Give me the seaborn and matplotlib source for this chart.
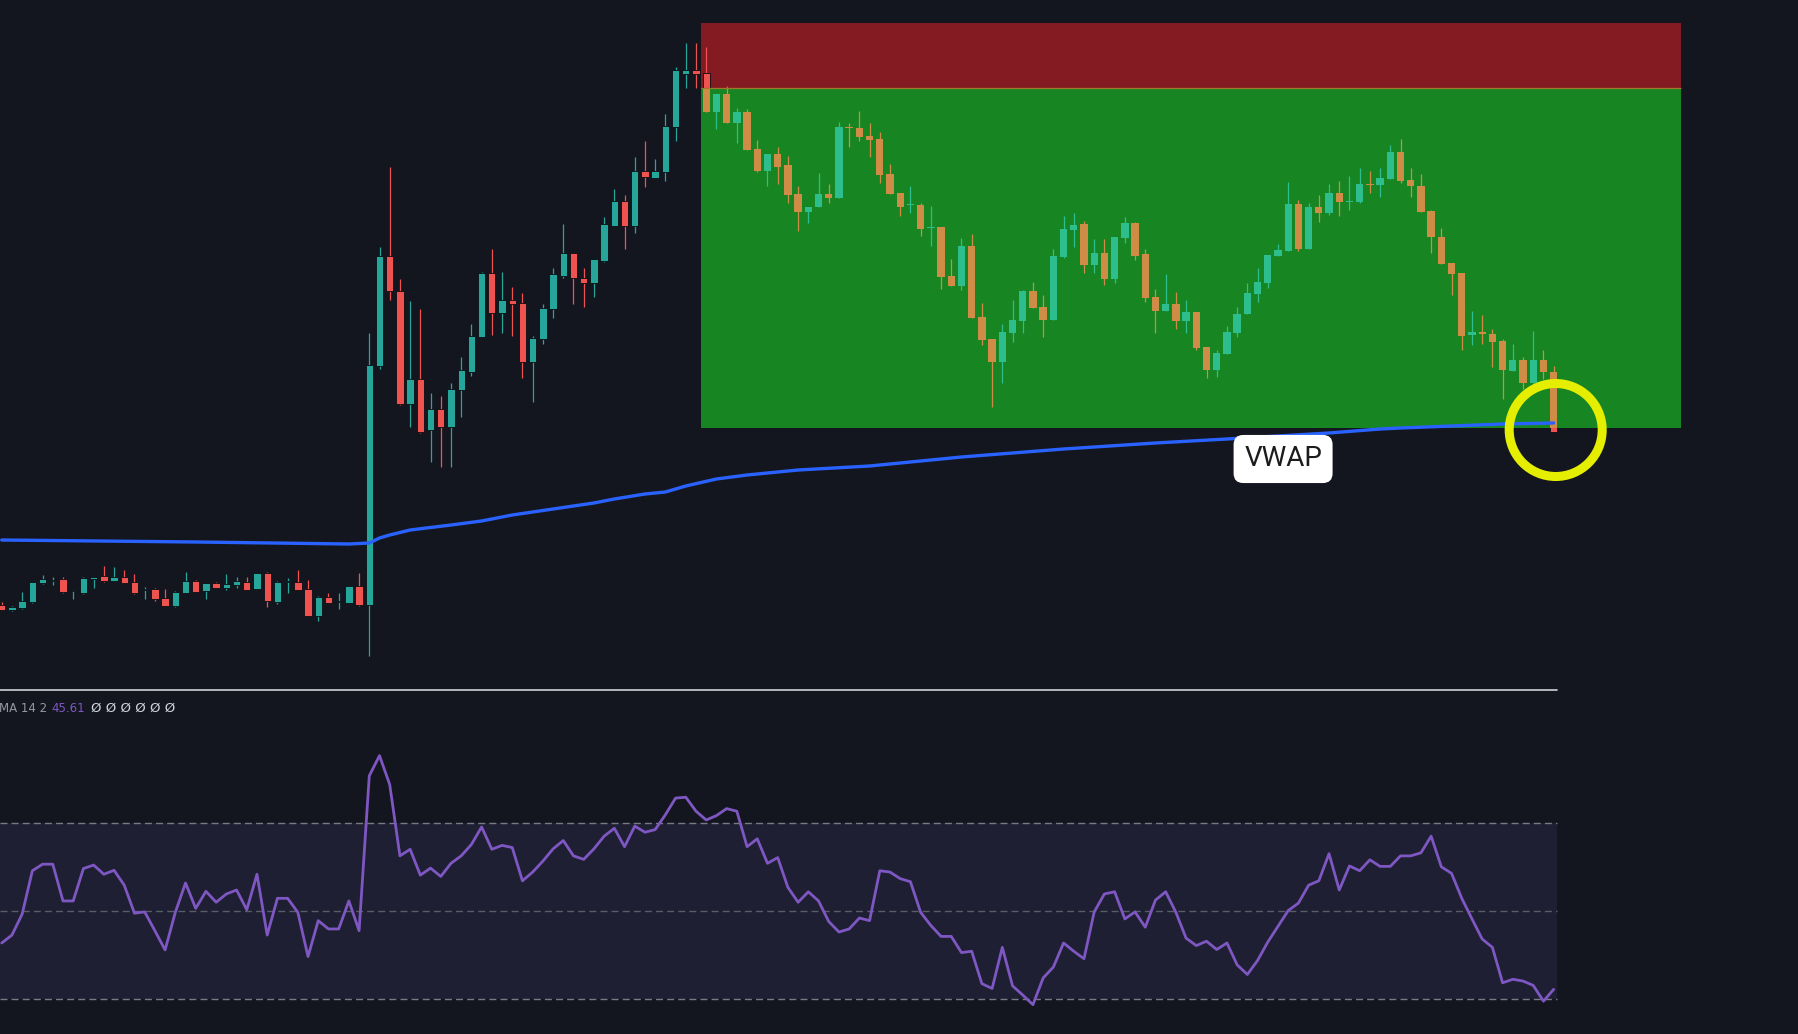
import matplotlib
matplotlib.use("Agg")
import matplotlib.pyplot as plt
from matplotlib.patches import Rectangle, Ellipse
from matplotlib.lines import Line2D
import numpy as np
import pandas as pd
import seaborn as sns

# candle data (one candle per bar, bar 0 = leftmost)
opens = [9.5, 9.0, 9.2, 9.8, 11.7, 11.9, 12.1, 10.9, 10.7, 12.1,
         12.4, 11.9, 12.3, 11.8, 11.0, 11.1, 10.2, 9.4, 10.7, 11.9,
         10.9, 11.7, 11.2, 11.5, 11.8, 11.1, 12.7, 9.8, 11.8, 11.8,
         11.1, 8.4, 10.3, 9.8, 9.7, 11.4, 9.5, 33.4, 44.4, 40.9,
         29.6, 32.1, 27.0, 29.1, 27.3, 31.0, 32.8, 36.3, 42.7, 38.7,
         40.0, 39.7, 33.8, 36.1, 39.1, 42.4, 44.7, 42.2, 41.7, 43.9,
         47.4, 49.9, 47.4, 52.9, 52.2, 52.8, 57.3, 62.6, 63.0, 62.7,
         58.8, 60.6, 57.7, 58.8, 55.1, 52.9, 54.6, 53.5, 50.6, 48.8,
         49.3, 50.6, 50.2, 57.3, 57.2, 56.4, 56.1, 52.6, 50.7, 49.5,
         49.5, 47.2, 47.3, 42.4, 41.4, 45.4, 38.3, 36.1, 33.8, 36.7,
         37.9, 40.9, 39.3, 38.0, 44.3, 47.0, 47.6, 43.5, 44.7, 42.1,
         46.2, 47.7, 44.6, 40.3, 38.9, 39.6, 37.9, 38.8, 35.3, 33.0,
         34.6, 36.7, 38.6, 40.6, 41.7, 44.4, 44.9, 49.6, 45.1, 49.3,
         48.7, 50.7, 49.8, 49.8, 51.6, 51.5, 52.1, 54.8, 52.0, 51.4,
         48.9, 46.3, 43.7, 42.7, 36.5, 36.8, 36.6, 35.9, 32.9, 34.0,
         31.7, 34.0, 32.8]
highs = [9.8, 9.4, 10.8, 11.8, 12.5, 12.3, 12.3, 11.0, 12.3, 12.3,
         13.4, 13.3, 13.0, 12.6, 11.3, 11.2, 11.1, 10.9, 12.8, 12.0,
         11.7, 11.8, 12.6, 12.3, 12.3, 12.7, 12.8, 11.9, 12.2, 13.0,
         12.0, 10.4, 10.7, 10.7, 11.4, 12.7, 36.7, 45.3, 53.3, 42.1,
         39.9, 39.1, 30.7, 30.4, 31.7, 34.3, 37.6, 42.8, 45.1, 42.8,
         41.3, 40.7, 36.4, 39.6, 43.2, 47.6, 44.7, 43.2, 44.1, 48.3,
         51.1, 50.5, 54.3, 55.9, 54.1, 58.6, 63.3, 65.7, 65.7, 65.3,
         60.6, 61.4, 59.2, 59.1, 56.0, 54.6, 55.3, 54.4, 51.4, 49.3,
         52.7, 51.6, 57.8, 57.7, 58.9, 57.7, 56.8, 53.6, 50.7, 51.4,
         49.7, 49.4, 47.3, 44.1, 46.2, 46.6, 39.7, 36.1, 37.6, 40.0,
         41.0, 41.8, 40.5, 45.1, 48.4, 48.7, 47.9, 46.1, 46.1, 46.3,
         48.3, 47.8, 45.1, 41.1, 42.6, 40.8, 40.0, 38.8, 35.3, 35.0,
         37.4, 39.3, 41.7, 43.2, 44.5, 45.6, 51.8, 50.0, 49.7, 50.5,
         51.6, 51.9, 52.4, 53.2, 52.9, 53.2, 55.5, 56.1, 53.2, 52.6,
         49.0, 47.2, 43.7, 42.7, 38.9, 38.5, 37.1, 36.1, 35.6, 34.3,
         36.9, 35.0, 33.4]
lows = [9.0, 8.9, 9.1, 9.7, 11.6, 11.5, 10.7, 10.1, 10.6, 11.2,
        11.8, 11.9, 11.7, 10.6, 10.1, 9.9, 9.4, 9.3, 10.7, 10.8,
        10.1, 11.2, 11.0, 11.2, 11.0, 11.1, 9.3, 9.6, 10.7, 11.0,
        8.4, 7.9, 9.7, 9.1, 9.7, 9.4, 4.4, 33.1, 40.0, 29.5,
        27.3, 26.7, 23.8, 23.3, 23.3, 28.3, 32.4, 36.3, 36.5, 36.7,
        36.4, 32.2, 29.8, 35.6, 38.2, 42.2, 39.6, 39.3, 40.3, 43.8,
        47.4, 45.1, 46.7, 51.3, 52.2, 51.9, 55.9, 61.2, 61.2, 58.8,
        57.1, 57.7, 55.7, 55.0, 52.8, 51.4, 51.6, 49.7, 46.9, 47.7,
        49.3, 49.7, 50.2, 55.3, 55.9, 54.3, 51.7, 50.6, 48.4, 48.7,
        46.4, 45.4, 41.1, 41.4, 41.0, 38.2, 35.5, 29.3, 31.7, 35.8,
        36.7, 39.2, 36.3, 38.0, 44.2, 45.3, 42.7, 42.7, 41.5, 41.7,
        45.7, 44.0, 39.8, 36.7, 38.9, 37.1, 36.7, 35.0, 32.2, 32.3,
        34.6, 36.3, 38.6, 39.8, 41.2, 44.4, 44.9, 44.9, 45.1, 47.8,
        48.5, 48.4, 49.0, 49.7, 50.7, 50.3, 52.1, 51.7, 50.3, 48.8,
        44.7, 43.6, 40.5, 35.0, 35.5, 35.6, 33.3, 30.1, 32.9, 31.1,
        31.7, 32.1, 26.8]
closes = [9.0, 9.3, 9.9, 11.8, 12.1, 12.0, 10.8, 11.0, 12.2, 12.3,
          11.9, 12.3, 11.7, 10.7, 11.0, 10.1, 9.4, 10.8, 11.9, 10.8,
          11.7, 11.2, 11.6, 11.9, 11.0, 12.7, 9.9, 11.8, 11.9, 11.0,
          8.4, 10.3, 9.7, 9.9, 11.4, 9.5, 33.5, 44.4, 40.9, 29.6,
          32.1, 26.8, 29.1, 27.3, 31.1, 33.0, 36.4, 42.7, 38.7, 40.0,
          39.6, 33.8, 36.2, 39.2, 42.6, 44.7, 42.2, 41.7, 44.1, 47.6,
          49.9, 47.4, 52.9, 52.3, 52.9, 57.4, 63.0, 63.0, 62.6, 58.8,
          60.6, 57.7, 58.8, 55.0, 52.9, 54.6, 53.3, 50.5, 48.8, 49.3,
          50.6, 50.2, 57.3, 57.2, 56.3, 56.0, 52.5, 50.6, 49.3, 49.5,
          47.1, 47.3, 42.3, 41.4, 45.4, 38.2, 36.0, 33.8, 36.8, 38.0,
          40.9, 39.2, 38.0, 44.4, 47.1, 47.5, 43.5, 44.7, 42.1, 46.3,
          47.7, 44.4, 40.2, 38.9, 39.6, 37.9, 38.8, 35.2, 33.0, 34.7,
          36.8, 38.6, 40.7, 41.8, 44.5, 45.0, 49.6, 45.1, 49.3, 48.7,
          50.7, 49.8, 49.9, 51.6, 51.5, 52.2, 54.8, 51.9, 51.4, 48.8,
          46.3, 43.6, 42.6, 36.4, 36.8, 36.6, 35.8, 33.0, 34.0, 31.7,
          34.0, 32.8, 26.8]

# RSI, one value per candle
rsi = [42.7, 44.5, 49.3, 59.2, 60.7, 60.7, 52.3, 52.3, 59.7, 60.5,
       58.4, 59.3, 55.9, 49.5, 49.8, 45.5, 41.1, 49.7, 56.4, 50.6,
       54.5, 52.0, 53.9, 54.8, 50.3, 58.4, 44.5, 52.9, 52.9, 49.7,
       39.6, 47.8, 45.9, 45.9, 52.3, 45.5, 80.9, 85.5, 78.9, 62.6,
       64.1, 58.2, 59.8, 57.9, 60.9, 62.6, 65.2, 69.2, 64.1, 65.0,
       64.5, 56.9, 58.9, 61.4, 64.2, 66.1, 62.6, 61.8, 64.2, 67.1,
       68.9, 64.7, 69.4, 68.0, 68.6, 72.0, 75.8, 76.0, 72.8, 70.8,
       71.8, 73.4, 72.8, 64.7, 66.5, 60.9, 62.2, 55.4, 52.0, 54.4,
       52.3, 47.6, 45.2, 45.9, 48.4, 47.8, 59.2, 58.9, 57.4, 56.7,
       49.7, 46.7, 44.2, 44.2, 40.5, 40.8, 33.4, 32.3, 41.7, 32.9,
       30.8, 28.6, 34.7, 37.2, 42.7, 40.8, 39.1, 49.8, 53.9, 54.4,
       48.2, 49.8, 46.3, 52.5, 54.4, 49.7, 43.8, 42.1, 43.1, 41.2,
       42.7, 37.7, 35.5, 38.7, 42.9, 46.5, 50.1, 51.8, 55.9, 56.9,
       63.1, 54.8, 60.3, 59.2, 61.7, 60.2, 60.2, 62.6, 62.6, 63.3,
       67.1, 60.1, 58.6, 52.9, 48.2, 43.6, 41.7, 33.6, 34.4, 34.0,
       33.0, 29.4, 32.1]
rsi_levels = [70, 50, 30]
rsi_last = "45.61"

# VWAP read at a few bars
vwap_bar = [0, 19, 34, 36, 37, 38, 40, 44, 47, 50, 54, 58, 60, 63, 65,
            67, 70, 73, 78, 85, 94, 104, 113, 120, 130, 135, 137, 147, 152]
vwap_val = [16.0, 15.8, 15.6, 15.7, 16.2, 16.5, 17.0, 17.5, 17.9, 18.5,
            19.1, 19.7, 20.1, 20.6, 20.8, 21.4, 22.1, 22.5, 23.0, 23.4,
            24.3, 25.1, 25.7, 26.1, 26.7, 27.1, 27.2, 27.6, 27.7]

# short position box
entry_bar, exit_bar = 68.5, 164.5
stop_price, entry_price, target_price = 67.7, 61.2, 27.2

bg = "#14161f"
sns.set_theme(style="dark", rc={"axes.facecolor": bg, "figure.facecolor": bg})
plt.rcParams["font.family"] = ["DejaVu Sans"]

df = pd.DataFrame({"open": opens, "high": highs, "low": lows, "close": closes})
bars = np.arange(len(df))

fig = plt.figure(figsize=(17.99, 10.34), dpi=100)
ax = fig.add_axes([0, 344 / 1034, 1, 690 / 1034])
ax2 = fig.add_axes([0, 0, 1, 344 / 1034])
xlim = (-0.17, 176.03)
pane_end = 152.3


def draw_candles(ax, up_col, down_col, edge, z, clip=None):
    up = (df["close"] >= df["open"]).values
    cols = np.where(up, up_col, down_col)
    wicks = ax.vlines(bars, df["low"], df["high"], colors=cols, lw=0.9, zorder=z)
    bottoms = np.minimum(df["open"], df["close"])
    heights = np.maximum((df["close"] - df["open"]).abs(), 0.12)
    body = ax.bar(bars, heights, bottom=bottoms, width=0.72, color=cols,
                  edgecolor=edge, linewidth=0.6 if edge != "none" else 0, zorder=z + 0.1)
    if clip is not None:
        wicks.set_clip_path(clip)
        for b in body:
            b.set_clip_path(clip)


red_box = Rectangle((entry_bar, entry_price), exit_bar - entry_bar, stop_price - entry_price,
                    facecolor="#841a22", edgecolor="none", zorder=1)
ax.add_patch(red_box)
draw_candles(ax, "#26a69a", "#ef5350", "#0b0d12", 2)
green_box = Rectangle((entry_bar, target_price), exit_bar - entry_bar, entry_price - target_price,
                      facecolor="#178522", edgecolor="none", zorder=3)
ax.add_patch(green_box)
draw_candles(ax, "#2ebd8c", "#cf8c46", "none", 4, clip=green_box)
ax.hlines(entry_price, entry_bar, exit_bar, color="#9c7a2e", lw=0.9, zorder=4.5)

sns.lineplot(x=vwap_bar, y=vwap_val, ax=ax, color="#2962ff", lw=2.4, zorder=5)
ax.text(125.5, 24.1, "VWAP", fontsize=20, family="Roboto", color="#1c1c1c",
        ha="center", va="center", zorder=6,
        bbox=dict(boxstyle="round,pad=0.38,rounding_size=0.35", fc="white", ec="none"))
ax.add_patch(Ellipse((152.2, 27.0), 93 / 10.21, 9.3, fill=False, ec="#e5ee00", lw=6.5, zorder=7))

ax.set_xlim(*xlim)
ax.set_ylim(1.0, 70.0)
ax.set_axis_off()

# RSI pane
ax2.fill_between([xlim[0], pane_end], 30, 70, color="#1e1f32", lw=0, zorder=1)
for lv in rsi_levels:
    ax2.hlines(lv, xlim[0], pane_end, colors="#787b86" if lv != 50 else "#5a5d68",
               lw=1.0, linestyles=(0, (5, 3)), zorder=2)
sns.lineplot(x=bars, y=rsi, ax=ax2, color="#7e57c2", lw=2.0, zorder=3)
ax2.set_xlim(*xlim)
ax2.set_ylim(21.9, 100.5)
ax2.set_axis_off()

ty = (1034 - 708) / 344
ax2.text(-1 / 1799, ty, "MA 14 2", transform=ax2.transAxes, fontsize=8.5,
         color="#9598a1", va="center", ha="left")
ax2.text(51 / 1799, ty, rsi_last, transform=ax2.transAxes, fontsize=8.5,
         color="#7e57c2", va="center", ha="left")
ax2.text(91 / 1799, ty, "Ø Ø Ø Ø Ø Ø", transform=ax2.transAxes, fontsize=9.5,
         color="#d1d4dc", va="center", ha="left")

fig.add_artist(Line2D([0, 1557 / 1799], [1 - 690 / 1034] * 2, transform=fig.transFigure,
                      color="#d0d2d8", lw=1.2))

fig.savefig("out.png", dpi=100, facecolor=bg)
